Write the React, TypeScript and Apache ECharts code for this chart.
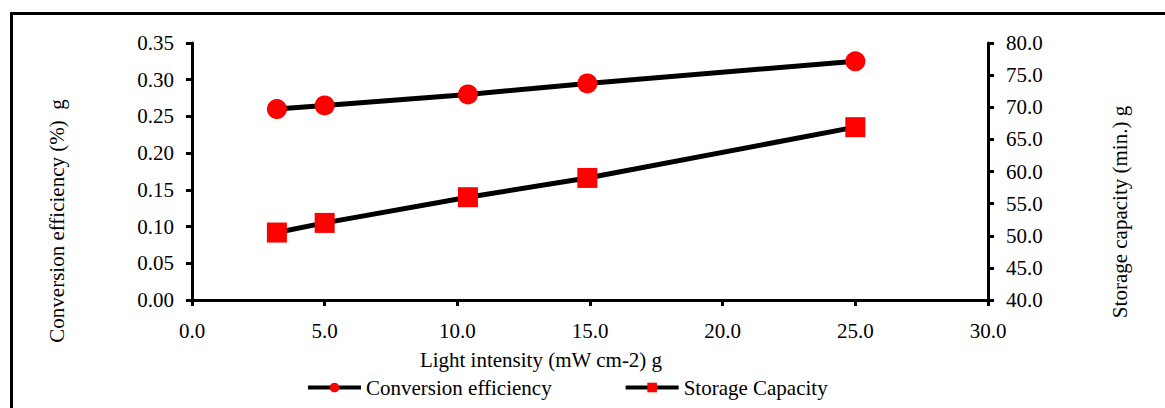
import React, { useEffect, useRef } from "react";
import * as echarts from "echarts";

const lightIntensity = [3.2, 5.0, 10.4, 14.9, 25.0];
const conversionEfficiency = [0.26, 0.265, 0.28, 0.295, 0.325];
const storageCapacity = [50.5, 52.0, 56.0, 59.0, 66.9];
const seriesNames = ["Conversion efficiency", "Storage Capacity"];
const xTitle = "Light intensity (mW cm-2) g";
const yLeftTitle = "Conversion efficiency (%)  g";
const yRightTitle = "Storage capacity (min.) g";

const FONT = "Liberation Serif, serif";

export default function App() {
  const ref = useRef<HTMLDivElement>(null);
  useEffect(() => {
    document.body.style.margin = "0";
    const chart = echarts.init(ref.current!, undefined, { renderer: "svg" });
    const axisLine = { show: true, lineStyle: { color: "#000", width: 3 } };
    const axisTick = { show: true, length: 6, inside: false, lineStyle: { color: "#000", width: 3 } };
    const label = { color: "#000", fontFamily: FONT, fontSize: 21 };
    const titleStyle = (text: string) => ({
      text,
      fontFamily: FONT,
      fontSize: 21,
      fill: "#000",
      align: "center",
      verticalAlign: "middle",
    });
    chart.setOption({
      animation: false,
      backgroundColor: "#fff",
      textStyle: { fontFamily: FONT },
      grid: { left: 192, right: 177, top: 43, height: 257, containLabel: false },
      xAxis: {
        type: "value",
        min: 0,
        max: 30,
        interval: 5,
        axisLine,
        axisTick,
        splitLine: { show: false },
        axisLabel: { ...label, margin: 20, formatter: (v: number) => v.toFixed(1) },
      },
      yAxis: [
        {
          type: "value",
          position: "left",
          min: 0,
          max: 0.35,
          interval: 0.05,
          axisLine,
          axisTick,
          splitLine: { show: false },
          axisLabel: { ...label, margin: 18, formatter: (v: number) => v.toFixed(2) },
        },
        {
          type: "value",
          position: "right",
          min: 40,
          max: 80,
          interval: 5,
          axisLine,
          axisTick,
          splitLine: { show: false },
          axisLabel: { ...label, margin: 18, formatter: (v: number) => v.toFixed(1) },
        },
      ],
      legend: {
        left: 301,
        top: 372,
        itemWidth: 53,
        itemHeight: 12,
        itemGap: 72,
        lineStyle: { width: 4, color: "#000" },
        textStyle: { color: "#000", fontFamily: FONT, fontSize: 21 },
        data: seriesNames,
      },
      graphic: [
        {
          type: "rect",
          shape: { x: 11.5, y: 13.5, width: 1300, height: 600 },
          style: { fill: "none", stroke: "#000", lineWidth: 3 },
          silent: true,
        },
        { type: "text", x: 541, y: 360, style: titleStyle(xTitle) },
        { type: "text", x: 57, y: 221, rotation: Math.PI / 2, style: titleStyle(yLeftTitle) },
        { type: "text", x: 1120, y: 212, rotation: Math.PI / 2, style: titleStyle(yRightTitle) },
      ],
      series: [
        {
          name: seriesNames[0],
          type: "line",
          yAxisIndex: 0,
          data: lightIntensity.map((x, i) => [x, conversionEfficiency[i]]),
          symbol: "circle",
          symbolSize: 20,
          itemStyle: { color: "#ff0000" },
          lineStyle: { color: "#000", width: 5 },
        },
        {
          name: seriesNames[1],
          type: "line",
          yAxisIndex: 1,
          data: lightIntensity.map((x, i) => [x, storageCapacity[i]]),
          symbol: "rect",
          symbolSize: 20,
          itemStyle: { color: "#ff0000" },
          lineStyle: { color: "#000", width: 5 },
        },
      ],
    });
    return () => chart.dispose();
  }, []);
  return <div ref={ref} style={{ width: 1165, height: 408 }} />;
}
